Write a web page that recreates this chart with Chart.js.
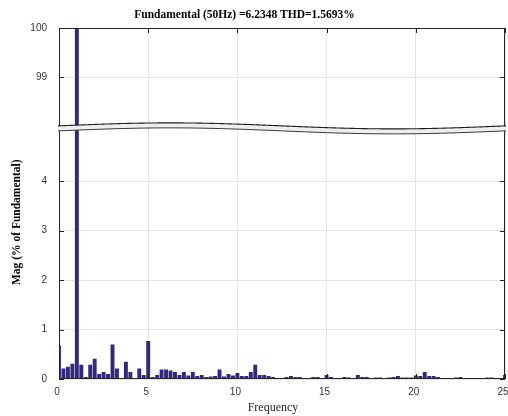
<!DOCTYPE html>
<html><head><meta charset="utf-8">
<script src="https://cdn.jsdelivr.net/npm/chart.js@4.4.0/dist/chart.umd.min.js"></script>
<style>html,body{margin:0;padding:0;background:#fff}#wrap{width:508px;height:416px;position:relative}</style>
</head><body><div id="wrap"><canvas id="c" width="508" height="416"></canvas></div>
<script>
const titleText = 'Fundamental (50Hz) =6.2348 THD=1.5693%';
const xLabel = 'Frequency';
const yLabel = 'Mag (% of Fundamental)';

const freqs = [0,0.25,0.5,0.75,1,1.25,1.5,1.75,2,2.25,2.5,2.75,3,3.25,3.5,3.75,4,4.25,4.5,4.75,
  5,5.25,5.5,5.75,6,6.25,6.5,6.75,7,7.25,7.5,7.75,8,8.25,8.5,8.75,9,9.25,9.5,9.75,
  10,10.25,10.5,10.75,11,11.25,11.5,11.75,12,12.25,12.5,12.75,13,13.25,13.5,13.75,14,14.25,14.5,14.75,
  15,15.25,15.5,15.75,16,16.25,16.5,16.75,17,17.25,17.5,17.75,18,18.25,18.5,18.75,19,19.25,19.5,19.75,
  20,20.25,20.5,20.75,21,21.25,21.5,21.75,22,22.25,22.5,22.75,23,23.25,23.5,23.75,24,24.25,24.5,24.75,25];
const mags = [0.68,0.21,0.25,0.31,100,0.29,0.04,0.29,0.41,0.10,0.14,0.10,0.70,0.21,0.02,0.35,0.14,0.02,0.21,0.08,
  0.77,0.04,0.08,0.19,0.19,0.17,0.14,0.08,0.14,0.07,0.14,0.06,0.08,0.04,0.05,0.06,0.19,0.05,0.10,0.07,
  0.12,0.06,0.06,0.14,0.29,0.08,0.08,0.06,0.04,0.02,0.02,0.04,0.06,0.04,0.04,0.01,0.02,0.04,0.04,0.01,
  0.08,0.04,0.02,0.02,0.04,0.03,0.02,0.08,0.04,0.04,0.01,0.03,0.03,0.02,0.03,0.04,0.06,0.03,0.03,0.03,
  0.07,0.06,0.14,0.06,0.06,0.04,0.02,0.02,0.01,0.03,0.04,0.02,0.01,0.02,0.01,0.01,0.03,0.03,0.01,0.01,0.08];
const xTicks = [0,5,10,15,20,25];
const lowerTicks = [0,1,2,3,4];
const upperTicks = [99,100];

const AX = '#262626';
const GRID = '#e3e3e3';
const BAR = '#31297f';

const decor = {
  id: 'decor',
  afterDraw(chart) {
    const ctx = chart.ctx, a = chart.chartArea;
    const sx = chart.scales.x, sy = chart.scales.y, sy2 = chart.scales.y2;
    ctx.save();
    ctx.strokeStyle = AX; ctx.lineWidth = 1;
    ctx.strokeRect(a.left + 0.5, a.top + 0.5, a.right - a.left - 1, a.bottom - a.top - 1);
    const tl = 5;
    ctx.beginPath();
    xTicks.forEach(v => {
      const px = Math.round(sx.getPixelForValue(v)) + 0.5;
      ctx.moveTo(px, a.top); ctx.lineTo(px, a.top + tl);
      ctx.moveTo(px, a.bottom); ctx.lineTo(px, a.bottom - tl);
    });
    [[sy, lowerTicks], [sy2, upperTicks]].forEach(([s, t]) => t.forEach(v => {
      const py = Math.round(s.getPixelForValue(v)) + 0.5;
      ctx.moveTo(a.left, py); ctx.lineTo(a.left + tl, py);
      ctx.moveTo(a.right, py); ctx.lineTo(a.right - tl, py);
    }));
    ctx.stroke();
    // break band
    const mid = sy.top + 1.5;
    const w = a.right - a.left;
    const wave = x => -3 * Math.sin(2 * Math.PI * (x - a.left) / w);
    const edge = off => {
      ctx.beginPath();
      for (let x = a.left - 1; x <= a.right + 1; x++) {
        const y = mid + off + wave(x);
        x === a.left - 1 ? ctx.moveTo(x, y) : ctx.lineTo(x, y);
      }
    };
    ctx.beginPath();
    for (let x = a.left - 1; x <= a.right + 1; x++) {
      const y = mid - 2.5 + wave(x);
      x === a.left - 1 ? ctx.moveTo(x, y) : ctx.lineTo(x, y);
    }
    for (let x = a.right + 1; x >= a.left - 1; x--) ctx.lineTo(x, mid + 2.5 + wave(x));
    ctx.closePath();
    ctx.fillStyle = '#eeeeee'; ctx.fill();
    ctx.strokeStyle = '#1e1e1e'; ctx.lineWidth = 1.1;
    edge(-2.5); ctx.stroke();
    ctx.strokeStyle = '#3a3a3a'; ctx.lineWidth = 1;
    edge(2.5); ctx.stroke();
    // texts
    ctx.fillStyle = '#000';
    ctx.font = 'bold 11.5px "Liberation Serif"';
    ctx.textAlign = 'center'; ctx.textBaseline = 'middle';
    ctx.fillText(titleText, 244.5, 15.5);
    ctx.font = '12px "Liberation Serif"';
    ctx.fillStyle = '#262626';
    ctx.fillText(xLabel, 273, 408);
    ctx.translate(17, 285);
    ctx.rotate(-Math.PI / 2);
    ctx.textAlign = 'left';
    ctx.font = 'bold 11.5px "Liberation Serif"';
    ctx.fillStyle = '#000';
    ctx.fillText(yLabel, 0, 0);
    ctx.restore();
  }
};

const tickFont = {family: '"Liberation Sans", Arial, sans-serif', size: 10};
const points = freqs.map((f, i) => ({x: f, y: mags[i]}));
const noPad = s => { s.paddingLeft = 0; s.paddingRight = 0; s.paddingTop = 0; s.paddingBottom = 0; };

new Chart(document.getElementById('c'), {
  type: 'bar',
  data: {
    datasets: [
      {data: points, backgroundColor: BAR, borderWidth: 0, barPercentage: 0.88, categoryPercentage: 1, clip: 0, yAxisID: 'y'},
      {data: points, backgroundColor: BAR, borderWidth: 0, barPercentage: 0.88, categoryPercentage: 1, clip: 0, yAxisID: 'y2', grouped: false}
    ]
  },
  options: {
    responsive: false,
    animation: false,
    layout: {padding: {left: 0, right: 3, top: 28, bottom: 0}},
    datasets: {bar: {grouped: false}},
    plugins: {legend: {display: false}, tooltip: {enabled: false}, title: {display: false}},
    scales: {
      x: {
        type: 'linear', min: 0, max: 25, offset: false,
        afterBuildTicks: s => { s.ticks = xTicks.map(v => ({value: v})); },
        afterFit: s => { s.height = 37; noPad(s); },
        grid: {color: GRID, drawTicks: false, offset: false},
        border: {display: false},
        ticks: {padding: 7, color: '#333', font: tickFont, maxRotation: 0, autoSkip: false, labelOffset: -2}
      },
      y: {
        type: 'linear', position: 'left', stack: 'v', stackWeight: 5.1, min: 0, max: 5.1,
        afterBuildTicks: s => { s.ticks = lowerTicks.map(v => ({value: v})); },
        afterFit: s => { s.width = 59; noPad(s); },
        grid: {color: GRID, drawTicks: false},
        border: {display: false},
        ticks: {padding: 12, color: '#333', font: tickFont}
      },
      y2: {
        type: 'linear', position: 'left', stack: 'v', stackWeight: 2, min: 98, max: 100,
        afterBuildTicks: s => { s.ticks = upperTicks.map(v => ({value: v})); },
        afterFit: s => { s.width = 59; noPad(s); },
        grid: {color: GRID, drawTicks: false},
        border: {display: false},
        ticks: {padding: 12, color: '#333', font: tickFont}
      }
    }
  },
  plugins: [decor]
});
</script>
</body></html>
